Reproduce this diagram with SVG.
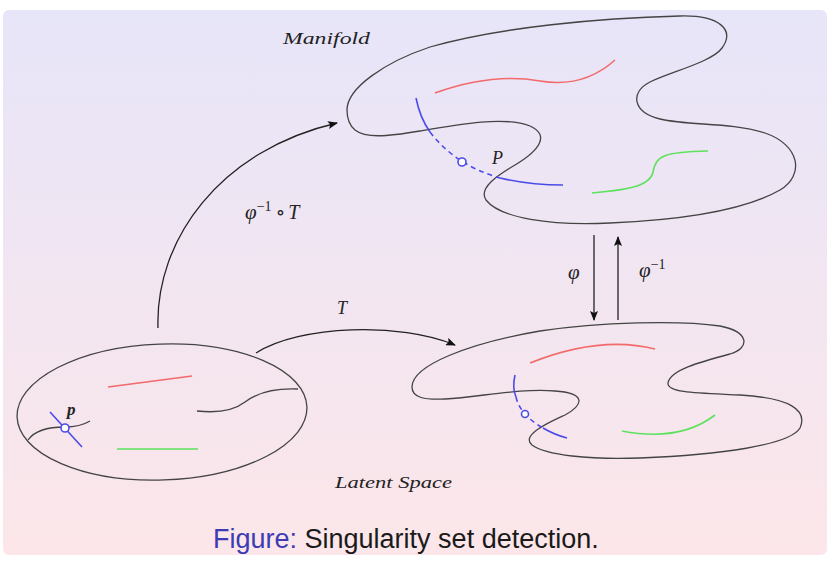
<svg xmlns="http://www.w3.org/2000/svg" width="835" height="564" viewBox="0 0 835 564">
<defs>
<linearGradient id="bg" x1="0" y1="0" x2="0" y2="1">
<stop offset="0" stop-color="#e7e5f9"/>
<stop offset="1" stop-color="#fce6e9"/>
</linearGradient>
<marker id="ah" viewBox="0 0 10 8" refX="9" refY="4" markerWidth="10" markerHeight="8" markerUnits="userSpaceOnUse" orient="auto">
<path d="M0,0 L10,4 L0,8 L2,4 Z" fill="#111"/>
</marker>
<style>
.outline{fill:none;stroke:#444;stroke-width:1.3}
.red{fill:none;stroke:#f26a6a;stroke-width:1.6}
.green{fill:none;stroke:#5ee25e;stroke-width:1.6}
.blue{fill:none;stroke:#4b4be8;stroke-width:1.6}
.dash{stroke-dasharray:5 4}
.dot{fill:#fff;stroke:#4b4be8;stroke-width:1.6}
.arrow{fill:none;stroke:#222;stroke-width:1.3;marker-end:url(#ah)}
.math{font-family:"Liberation Serif","DejaVu Serif",serif;font-style:italic;fill:#222}
.cap{font-family:"Liberation Sans",Arial,sans-serif;font-size:27px}
</style>
</defs>
<rect x="0" y="0" width="835" height="564" fill="#fff"/>
<rect x="3" y="10" width="824" height="545" rx="6" fill="url(#bg)"/>

<g id="manifold">
<path class="outline" d="M347,110 C347,88 385,62 430,47 C500,27 600,18 680,16 C720,15 735,30 722,48 C712,62 670,72 650,82 C630,92 632,112 660,119 C690,126 730,122 765,133 C800,145 805,175 780,190 C745,210 680,220 610,223 C550,226 500,218 486,200 C478,188 498,175 515,165 C540,150 550,135 530,126 C505,116 460,124 420,131 C385,137 365,138 355,130 C349,125 347,118 347,110 Z"/>
<path class="red" d="M435,93 C460,84 500,74 540,81 C570,86 595,78 615,60"/>
<path class="green" d="M592,193 C625,190 650,187 653,172 C656,155 665,152 708,151"/>
<path class="blue" d="M416,98 Q420,118 430,132"/>
<path class="blue dash" d="M430,132 Q455,165 500,178"/>
<path class="blue" d="M500,178 Q530,185 563,185"/>
<circle class="dot" cx="462" cy="162" r="4"/>
<text class="math" x="492" y="164" font-size="18">P</text>
<text class="math" x="283" y="44" font-size="17" textLength="87" lengthAdjust="spacingAndGlyphs">Manifold</text>
</g>

<g id="latent-image">
<path class="outline" d="M412,387 C412,365 470,343 540,331 C600,322 680,320 720,326 C750,332 750,348 730,354 C700,362 670,370 668,383 C667,393 700,393 740,395 C790,398 808,410 800,428 C790,445 720,455 640,458 C590,460 545,455 532,445 C520,435 550,422 565,415 C585,404 585,393 555,391 C520,388 480,397 445,399 C425,400 412,398 412,387 Z"/>
<path class="red" d="M530,363 Q600,335 655,349"/>
<path class="green" d="M622,431 Q680,442 715,415"/>
<path class="blue" d="M515,375 Q512,388 516,397"/>
<path class="blue dash" d="M516,397 Q520,415 543,428"/>
<path class="blue" d="M543,428 Q555,435 567,438"/>
<circle class="dot" cx="525" cy="414" r="3.5"/>
</g>

<g id="latent-space">
<ellipse class="outline" cx="162" cy="412" rx="145" ry="68" transform="rotate(-2 162 412)"/>
<path class="red" d="M108,387 L192,376"/>
<path class="green" d="M117,449 L198,449"/>
<path class="outline" d="M197,411 C215,413 232,412 245,402 C258,392 275,388 298,389"/>
<path class="outline" d="M28,440 C35,430 50,427 65,427 C75,427 85,424 90,421"/>
<path class="blue" d="M50,412 L82,447"/>
<circle class="dot" cx="65" cy="428" r="4"/>
<text class="math" x="67" y="415" font-size="17" font-weight="bold">p</text>
<text class="math" x="335" y="488" font-size="17" textLength="117" lengthAdjust="spacingAndGlyphs">Latent Space</text>
</g>

<g id="connectors">
<path class="arrow" d="M158,328 C155,240 220,150 337,123"/>
<path class="arrow" d="M256,353 C300,325 400,322 455,345"/>
<path class="arrow" d="M594,235 L594,320"/>
<path class="arrow" d="M618,320 L618,237"/>
</g>

<g id="labels">
<text class="math" x="245" y="219" font-size="21">φ<tspan font-size="14" font-style="normal" dy="-8">−1</tspan><tspan font-style="normal" font-size="20" dy="8" dx="4">∘</tspan><tspan dx="3" font-size="20">T</tspan></text>
<text class="math" x="337" y="314" font-size="18">T</text>
<text class="math" x="568" y="279" font-size="21">φ</text>
<text class="math" x="639" y="277" font-size="21">φ<tspan font-size="14" font-style="normal" dy="-8">−1</tspan></text>
</g>

<text class="cap" x="213" y="548"><tspan fill="#3c3cb4">Figure:</tspan><tspan fill="#1a1a1a"> Singularity set detection.</tspan></text>
</svg>
